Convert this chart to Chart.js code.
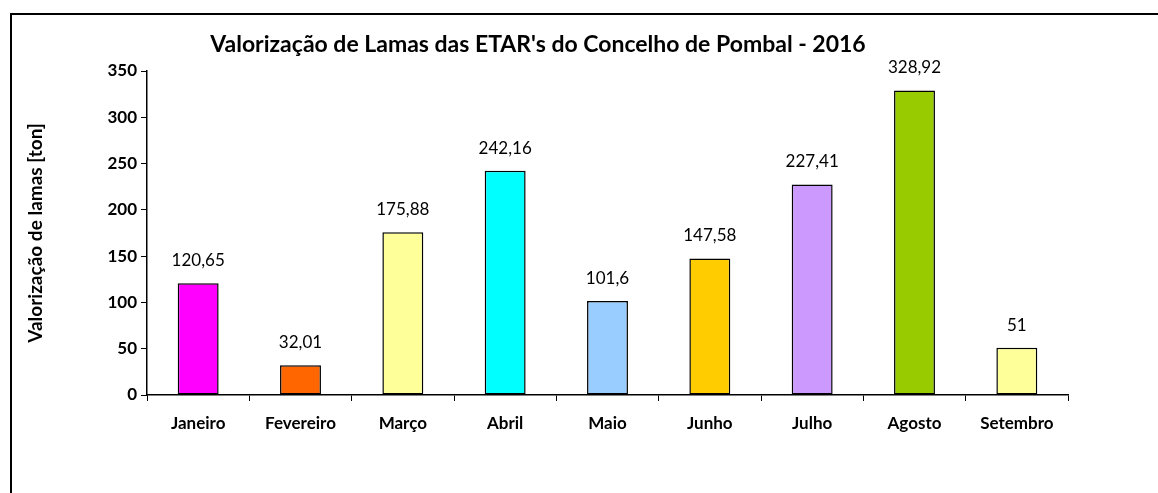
<!DOCTYPE html>
<html><head><meta charset="utf-8">
<script src="https://cdn.jsdelivr.net/npm/chart.js@4.4.0/dist/chart.umd.min.js"></script>
<style>
html,body{margin:0;padding:0;background:#fff;overflow:hidden;width:1158px;height:493px;}
#frame{position:absolute;left:10px;top:13px;width:1300px;height:600px;border:2px solid #000;box-sizing:border-box;}
#wrap{position:absolute;left:0;top:0;width:1158px;height:493px;}
</style></head>
<body>
<div id="frame"></div>
<div id="wrap"><canvas id="c" width="1158" height="493"></canvas></div>
<script>
const chartTitle = "Valorização de Lamas das ETAR's do Concelho de Pombal - 2016";
const yTitle = "Valorização de lamas [ton]";
const months = ["Janeiro","Fevereiro","Março","Abril","Maio","Junho","Julho","Agosto","Setembro"];
const values = [120.65, 32.01, 175.88, 242.16, 101.6, 147.58, 227.41, 328.92, 51];
const valueLabels = ["120,65","32,01","175,88","242,16","101,6","147,58","227,41","328,92","51"];
const barColors = ["#FF00FF","#FF6600","#FFFF99","#00FFFF","#99CCFF","#FFCC00","#CC99FF","#99CC00","#FFFF99"];
const yMin = 0, yMax = 350, yStep = 50;

const FONT = "Lato, Carlito, 'Open Sans', sans-serif";

const labelPlugin = {
  id: 'labels',
  afterDatasetsDraw(chart) {
    const ctx = chart.ctx;
    const meta = chart.getDatasetMeta(0);
    ctx.save();
    ctx.fillStyle = '#000';
    ctx.font = "17px " + FONT;
    ctx.textAlign = 'center';
    ctx.textBaseline = 'bottom';
    meta.data.forEach((bar, i) => {
      ctx.fillText(valueLabels[i], bar.x, bar.y - 14);
    });
    ctx.restore();
  }
};
const titlePlugin = {
  id: 'ctitle',
  afterDraw(chart) {
    const ctx = chart.ctx;
    ctx.save();
    ctx.fillStyle = '#000';
    ctx.font = "bold 23px " + FONT;
    ctx.textAlign = 'center';
    ctx.textBaseline = 'middle';
    ctx.fillText(chartTitle, 538, 45);
    ctx.restore();
  }
};

new Chart(document.getElementById('c'), {
  type: 'bar',
  data: {
    labels: months,
    datasets: [{
      data: values,
      backgroundColor: barColors,
      borderColor: '#000',
      borderWidth: 1.5,
      borderSkipped: false,
      barPercentage: 0.4,
      categoryPercentage: 1.0
    }]
  },
  options: {
    responsive: false,
    animation: false,
    devicePixelRatio: 1,
    layout: { padding: { top: 71, right: 90, left: 0, bottom: 0 } },
    plugins: { legend: { display: false }, title: { display: false }, tooltip: { enabled: false } },
    scales: {
      x: {
        offset: true,
        grid: { display: true, offset: true, drawOnChartArea: false, color: '#000', tickLength: 6, tickWidth: 1 },
        border: { display: true, color: '#000', width: 1.5 },
        ticks: { color: '#000', font: { family: FONT, size: 17, weight: 'bold' }, padding: 12, maxRotation: 0 },
        afterFit(s) { s.height = 98; }
      },
      y: {
        min: yMin, max: yMax,
        grid: { display: true, drawOnChartArea: false, color: '#000', tickLength: 6, tickWidth: 1 },
        border: { display: true, color: '#000', width: 1.5 },
        ticks: { stepSize: yStep, color: '#000', font: { family: FONT, size: 17, weight: 'bold' }, padding: 4 },
        title: { display: true, text: yTitle, color: '#000', font: { family: FONT, size: 19, weight: 'bold' }, padding: { top: 24, bottom: 0 } },
        afterFit(s) { s.width = 147; }
      }
    }
  },
  plugins: [labelPlugin, titlePlugin]
});
</script>
</body></html>
